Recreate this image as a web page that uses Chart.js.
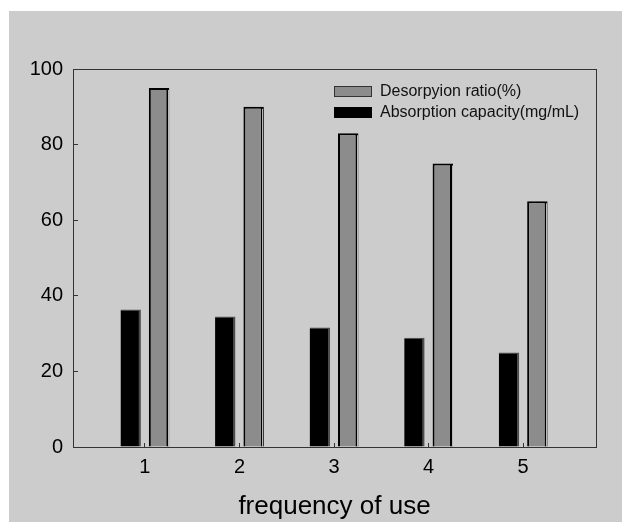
<!DOCTYPE html>
<html>
<head>
<meta charset="utf-8">
<script src="https://cdn.jsdelivr.net/npm/chart.js@4/dist/chart.umd.min.js"></script>
<style>
    html, body {
        margin: 0;
        background: #ffffff;
    }
    #frame {
        position: absolute;
        left: 9px;
        top: 11px;
        width: 613px;
        height: 511px;
        background: #cccccc;
    }
</style>
</head>
<body>
<div id="frame"><canvas id="chart" width="613" height="511"></canvas></div>
<script>
// Reuse cycles and the two measured quantities
const usage = [1, 2, 3, 4, 5];
const absorption = [36.4, 34.5, 31.6, 28.9, 25.0];
const desorption = [95, 90, 83, 75, 65];
const yTicks = [0, 20, 40, 60, 80, 100];

const FONT = "'Liberation Sans', Arial, sans-serif";
const AXIS_COLOR = "#333333";

const toPoints = (values) => values.map((v, i) => ({ x: usage[i], y: v }));

// Box around the plot area (top and right edges included)
const frameBorder = {
    id: "frameBorder",
    afterDraw(chart) {
        const { ctx, chartArea } = chart;
        ctx.save();
        ctx.strokeStyle = AXIS_COLOR;
        ctx.lineWidth = 1;
        ctx.strokeRect(
            Math.round(chartArea.left) + 0.5,
            Math.round(chartArea.top) + 0.5,
            Math.round(chartArea.right - chartArea.left),
            Math.round(chartArea.bottom - chartArea.top),
        );
        ctx.restore();
    },
};

// Thin highlight inside the thick right edge of the grey bars
const barEdge = {
    id: "barEdge",
    afterDatasetsDraw(chart) {
        const { ctx } = chart;
        const meta = chart.getDatasetMeta(1);
        ctx.save();
        ctx.strokeStyle = "#b8b8b8";
        ctx.lineWidth = 1;
        for (const bar of meta.data) {
            const { x, y, base, width } = bar.getProps(["x", "y", "base", "width"], true);
            const lx = Math.round(x + width / 2 - 1.5) + 0.5;
            ctx.beginPath();
            ctx.moveTo(lx, y + 2);
            ctx.lineTo(lx, base);
            ctx.stroke();
        }
        ctx.restore();
    },
};

// Legend drawn inside the plot, upper right
const insideLegend = {
    id: "insideLegend",
    afterDraw(chart) {
        const { ctx, chartArea } = chart;
        const datasets = chart.data.datasets.slice().reverse();
        const boxX = chartArea.left + 261;
        const textX = chartArea.left + 307;
        let boxY = chartArea.top + 17;

        ctx.save();
        ctx.font = "16px " + FONT;
        ctx.textBaseline = "middle";
        ctx.textAlign = "left";
        for (const ds of datasets) {
            ctx.fillStyle = ds.legendBorder;
            ctx.fillRect(boxX, boxY, 38, 11);
            ctx.fillStyle = ds.backgroundColor;
            ctx.fillRect(boxX + 1, boxY + 1, 36, 9);
            ctx.fillStyle = "#111111";
            ctx.fillText(ds.label, textX, boxY + 5.5);
            boxY += 21;
        }
        ctx.restore();
    },
};

const data = {
    datasets: [
        {
            label: "Absorption capacity(mg/mL)",
            data: toPoints(absorption),
            backgroundColor: "#000000",
            borderColor: "#4d4d4d",
            borderWidth: { top: 1, right: 2, left: 0, bottom: 0 },
            legendBorder: "#000000",
        },
        {
            label: "Desorpyion ratio(%)",
            data: toPoints(desorption),
            backgroundColor: "#8c8c8c",
            borderColor: "#000000",
            borderWidth: { top: 2, right: 3, left: 2, bottom: 0 },
            legendBorder: "#333333",
        },
    ],
};

const config = {
    type: "bar",
    data,
    options: {
        responsive: false,
        animation: false,
        devicePixelRatio: 1,
        categoryPercentage: 0.6,
        barPercentage: 0.72,
        layout: {
            padding: { top: 58, right: 26, left: 0, bottom: 0 },
        },
        plugins: {
            legend: { display: false },
            tooltip: { enabled: false },
        },
        scales: {
            x: {
                type: "linear",
                min: 0.24,
                max: 5.77,
                offset: false,
                afterBuildTicks: (scale) => {
                    scale.ticks = usage.map((v) => ({ value: v }));
                },
                afterFit: (scale) => {
                    scale.height = 75;
                },
                ticks: {
                    color: "#000000",
                    padding: 12,
                    maxRotation: 0,
                    autoSkip: false,
                    font: { family: FONT, size: 20 },
                },
                grid: {
                    offset: false,
                    drawOnChartArea: false,
                    tickLength: -4,
                    color: AXIS_COLOR,
                },
                border: { color: AXIS_COLOR, width: 1 },
                title: {
                    display: true,
                    text: "frequency of use",
                    color: "#000000",
                    padding: { top: 0, bottom: 0 },
                    font: { family: FONT, size: 26 },
                },
            },
            y: {
                min: 0,
                max: 100,
                afterBuildTicks: (scale) => {
                    scale.ticks = yTicks.map((v) => ({ value: v }));
                },
                afterFit: (scale) => {
                    scale.width = 64;
                },
                ticks: {
                    color: "#000000",
                    padding: 15,
                    font: { family: FONT, size: 20 },
                },
                grid: {
                    drawOnChartArea: false,
                    tickLength: -5,
                    color: AXIS_COLOR,
                },
                border: { color: AXIS_COLOR, width: 1 },
            },
        },
    },
    plugins: [barEdge, frameBorder, insideLegend],
};

new Chart(document.querySelector("#chart"), config);
</script>
</body>
</html>
